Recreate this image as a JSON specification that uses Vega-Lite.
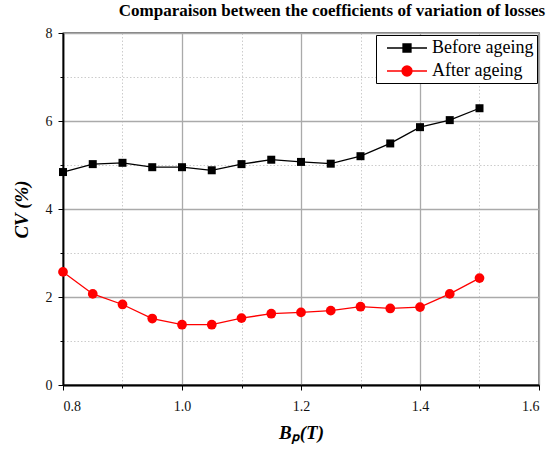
{
  "$schema": "https://vega.github.io/schema/vega-lite/v6.json",
  "width": 476,
  "height": 352,
  "autosize": {"type": "none"},
  "padding": {"left": 63, "top": 33, "right": 10, "bottom": 72},
  "background": "white",
  "title": {
    "text": "Comparaison between the coefficients of variation of losses",
    "font": "Liberation Serif",
    "fontSize": 17,
    "fontWeight": "bold",
    "color": "black",
    "anchor": "middle",
    "baseline": "alphabetic",
    "dx": 31,
    "offset": -7
  },
  "config": {
    "view": {"stroke": "black", "strokeWidth": 1.3}
  },
  "data": {
    "values": [
      {"B": 0.8, "CV": 4.84, "s": "Before ageing"},
      {"B": 0.85, "CV": 5.02, "s": "Before ageing"},
      {"B": 0.9, "CV": 5.05, "s": "Before ageing"},
      {"B": 0.95, "CV": 4.95, "s": "Before ageing"},
      {"B": 1.0, "CV": 4.95, "s": "Before ageing"},
      {"B": 1.05, "CV": 4.88, "s": "Before ageing"},
      {"B": 1.1, "CV": 5.02, "s": "Before ageing"},
      {"B": 1.15, "CV": 5.12, "s": "Before ageing"},
      {"B": 1.2, "CV": 5.07, "s": "Before ageing"},
      {"B": 1.25, "CV": 5.03, "s": "Before ageing"},
      {"B": 1.3, "CV": 5.2, "s": "Before ageing"},
      {"B": 1.35, "CV": 5.49, "s": "Before ageing"},
      {"B": 1.4, "CV": 5.86, "s": "Before ageing"},
      {"B": 1.45, "CV": 6.02, "s": "Before ageing"},
      {"B": 1.5, "CV": 6.29, "s": "Before ageing"},
      {"B": 0.8, "CV": 2.57, "s": "After ageing"},
      {"B": 0.85, "CV": 2.07, "s": "After ageing"},
      {"B": 0.9, "CV": 1.83, "s": "After ageing"},
      {"B": 0.95, "CV": 1.51, "s": "After ageing"},
      {"B": 1.0, "CV": 1.37, "s": "After ageing"},
      {"B": 1.05, "CV": 1.37, "s": "After ageing"},
      {"B": 1.1, "CV": 1.52, "s": "After ageing"},
      {"B": 1.15, "CV": 1.62, "s": "After ageing"},
      {"B": 1.2, "CV": 1.65, "s": "After ageing"},
      {"B": 1.25, "CV": 1.69, "s": "After ageing"},
      {"B": 1.3, "CV": 1.78, "s": "After ageing"},
      {"B": 1.35, "CV": 1.74, "s": "After ageing"},
      {"B": 1.4, "CV": 1.77, "s": "After ageing"},
      {"B": 1.45, "CV": 2.07, "s": "After ageing"},
      {"B": 1.5, "CV": 2.43, "s": "After ageing"}
    ]
  },
  "encoding": {
    "x": {
      "field": "B",
      "type": "quantitative",
      "scale": {"domain": [0.8, 1.6], "nice": false, "zero": false},
      "axis": {
        "title": "Bₚ(T)",
        "titleFont": "Liberation Serif",
        "titleFontSize": 19,
        "titleFontWeight": "bold",
        "titleFontStyle": "italic",
        "titleColor": "black",
        "titlePadding": 10,
        "labelFont": "Liberation Serif",
        "labelFontSize": 14,
        "labelColor": "#111",
        "domainColor": "black",
        "domainWidth": 1.8,
        "tickColor": "black",
        "values": [0.8, 0.9, 1.0, 1.1, 1.2, 1.3, 1.4, 1.5, 1.6],
        "labelExpr": "round(datum.value*10) % 2 == 0 ? format(datum.value, '.1f') : ''",
        "labelPadding": 9,
        "grid": true,
        "gridColor": {"condition": {"test": "round(datum.value*10) % 2 == 1", "value": "#cccccc"}, "value": "#aaaaaa"},
        "gridDash": {"condition": {"test": "round(datum.value*10) % 2 == 1", "value": [1.5, 2]}, "value": []},
        "gridWidth": {"condition": {"test": "round(datum.value*10) % 2 == 1", "value": 1}, "value": 1.3},
        "tickSize": {"condition": {"test": "round(datum.value*10) % 2 == 1", "value": 3}, "value": 5}
      }
    },
    "y": {
      "field": "CV",
      "type": "quantitative",
      "scale": {"domain": [0, 8], "nice": false},
      "axis": {
        "title": "CV (%)",
        "titleFont": "Liberation Serif",
        "titleFontSize": 19,
        "titleFontWeight": "bold",
        "titleFontStyle": "italic",
        "titleColor": "black",
        "titlePadding": 14,
        "labelFont": "Liberation Serif",
        "labelFontSize": 14,
        "labelColor": "#111",
        "domainColor": "black",
        "domainWidth": 1.8,
        "tickColor": "black",
        "values": [0, 1, 2, 3, 4, 5, 6, 7, 8],
        "labelExpr": "datum.value % 2 == 0 ? format(datum.value, 'd') : ''",
        "labelPadding": 6,
        "grid": true,
        "gridColor": {"condition": {"test": "datum.value % 2 == 1", "value": "#cccccc"}, "value": "#aaaaaa"},
        "gridDash": {"condition": {"test": "datum.value % 2 == 1", "value": [1.5, 2]}, "value": []},
        "gridWidth": {"condition": {"test": "datum.value % 2 == 1", "value": 1}, "value": 1.3},
        "tickSize": {"condition": {"test": "datum.value % 2 == 1", "value": 3}, "value": 5}
      }
    }
  },
  "layer": [
    {
      "mark": {"type": "line", "strokeWidth": 1.3},
      "encoding": {
        "color": {
          "field": "s",
          "type": "nominal",
          "scale": {"domain": ["Before ageing", "After ageing"], "range": ["black", "#ff0000"]},
          "legend": {
            "title": null,
            "orient": "top-right",
            "offset": 2,
            "padding": 3,
            "strokeColor": "black",
            "fillColor": "white",
            "labelFont": "Liberation Serif",
            "labelFontSize": 18,
            "labelColor": "black",
            "symbolSize": 324,
            "symbolOffset": 18,
            "labelOffset": 15,
            "rowPadding": 4,
            "symbolStrokeWidth": 1.3,
            "encode": {
              "symbols": {
                "update": {
                  "shape": {"signal": "datum.value === 'Before ageing' ? 'M-2.222,0H2.222M-0.444,-0.444H0.444V0.444H-0.444Z' : 'M-2.222,0H2.222M0.556,0A0.556,0.556,0,1,1,-0.556,0A0.556,0.556,0,1,1,0.556,0Z'"},
                  "fill": {"signal": "datum.value === 'Before ageing' ? 'black' : '#ff0000'"},
                  "fillOpacity": {"value": 1}
                }
              }
            }
          }
        }
      }
    },
    {
      "mark": {"type": "point", "filled": true, "opacity": 1},
      "encoding": {
        "shape": {"condition": {"test": "datum.s === 'Before ageing'", "value": "square"}, "value": "circle"},
        "size": {"condition": {"test": "datum.s === 'Before ageing'", "value": 64}, "value": 95},
        "color": {"condition": {"test": "datum.s === 'Before ageing'", "value": "black"}, "value": "#ff0000"}
      }
    }
  ]
}
